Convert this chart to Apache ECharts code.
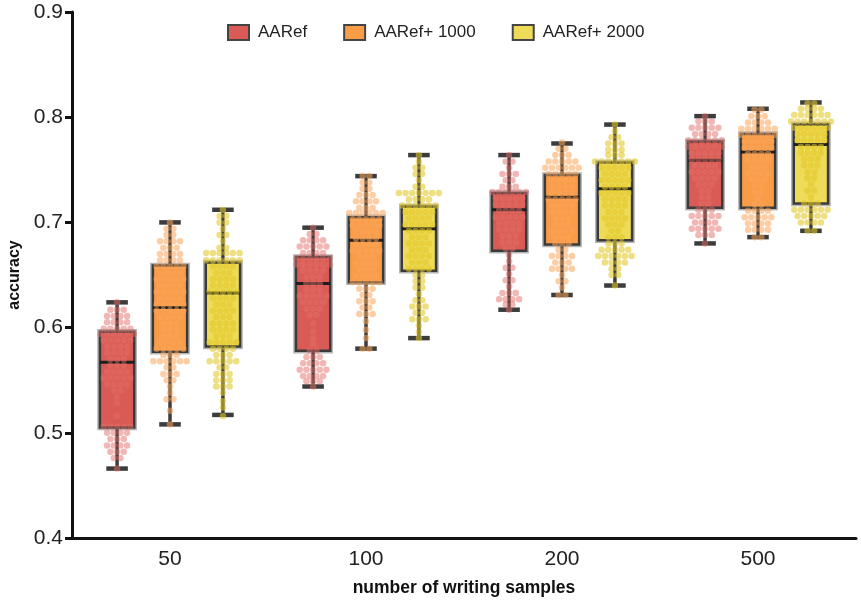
<!DOCTYPE html>
<html>
<head>
<meta charset="utf-8">
<script src="https://cdn.jsdelivr.net/npm/echarts@6/dist/echarts.min.js"></script>
<style>
  html, body { margin: 0; padding: 0; background: #fff; }
  #main { width: 861px; height: 601px; }
</style>
</head>
<body>
<div id="main"></div>
<script>
// categories and series
var categories = ['50', '100', '200', '500'];
var seriesNames = ['AARef', 'AARef+ 1000', 'AARef+ 2000'];
var boxColors = ['#da5b55', '#f99c47', '#eedc58'];
var dotColors = ['rgba(226,110,104,0.62)', 'rgba(250,165,90,0.68)', 'rgba(226,200,40,0.72)'];

// box stats per series, one row per category: [min, Q1, median, Q3, max]
var boxAARef = [
  [0.466, 0.505, 0.567, 0.596, 0.624],
  [0.544, 0.578, 0.642, 0.667, 0.695],
  [0.617, 0.673, 0.712, 0.728, 0.764],
  [0.680, 0.714, 0.759, 0.777, 0.801]
];
var boxAARef1000 = [
  [0.508, 0.577, 0.619, 0.659, 0.700],
  [0.580, 0.643, 0.683, 0.705, 0.744],
  [0.631, 0.679, 0.724, 0.745, 0.775],
  [0.686, 0.714, 0.767, 0.784, 0.808]
];
var boxAARef2000 = [
  [0.517, 0.582, 0.633, 0.662, 0.712],
  [0.590, 0.654, 0.694, 0.715, 0.764],
  [0.640, 0.683, 0.732, 0.757, 0.793],
  [0.692, 0.718, 0.774, 0.793, 0.814]
];

// individual samples read as rows: [accuracy, number of dots at that level]
var dotsAARef = [
  [[0.624,1],[0.617,3],[0.611,4],[0.605,4],[0.599,5],[0.594,6],[0.588,5],[0.582,4],[0.576,4],[0.570,3],[0.564,3],[0.558,4],[0.552,5],[0.546,4],[0.540,2],[0.534,1],[0.528,1],[0.516,1],[0.506,5],[0.500,4],[0.494,3],[0.488,4],[0.482,3],[0.476,2],[0.466,1]],
  [[0.695,1],[0.689,2],[0.683,4],[0.677,5],[0.671,4],[0.666,6],[0.660,6],[0.654,4],[0.648,3],[0.642,3],[0.636,3],[0.630,5],[0.624,4],[0.618,3],[0.612,2],[0.604,1],[0.596,1],[0.590,1],[0.584,1],[0.578,2],[0.572,3],[0.566,4],[0.560,5],[0.554,4],[0.549,3],[0.544,1]],
  [[0.764,1],[0.758,2],[0.752,1],[0.746,3],[0.740,2],[0.734,3],[0.729,6],[0.723,5],[0.717,5],[0.711,4],[0.705,5],[0.699,4],[0.693,4],[0.687,3],[0.681,3],[0.675,2],[0.669,1],[0.663,1],[0.657,2],[0.651,1],[0.645,2],[0.639,1],[0.633,3],[0.627,4],[0.622,2],[0.617,1]],
  [[0.801,1],[0.796,3],[0.790,5],[0.784,4],[0.778,6],[0.772,6],[0.766,5],[0.760,5],[0.754,4],[0.748,5],[0.742,4],[0.736,3],[0.730,2],[0.724,2],[0.718,2],[0.712,3],[0.706,5],[0.700,4],[0.694,5],[0.688,3],[0.680,1]]
];
var dotsAARef1000 = [
  [[0.700,1],[0.694,2],[0.688,2],[0.682,4],[0.676,3],[0.670,4],[0.664,4],[0.658,5],[0.652,4],[0.646,5],[0.640,4],[0.634,5],[0.628,4],[0.622,5],[0.616,5],[0.610,4],[0.604,3],[0.598,3],[0.592,3],[0.586,4],[0.580,5],[0.574,3],[0.568,6],[0.562,2],[0.556,3],[0.550,2],[0.544,1],[0.538,1],[0.532,2],[0.521,1],[0.508,1]],
  [[0.744,2],[0.738,2],[0.732,2],[0.726,3],[0.720,4],[0.714,3],[0.709,6],[0.703,5],[0.697,5],[0.691,4],[0.685,4],[0.679,4],[0.673,5],[0.667,3],[0.661,4],[0.655,3],[0.649,4],[0.643,5],[0.637,3],[0.631,2],[0.625,3],[0.619,2],[0.613,3],[0.606,1],[0.598,1],[0.590,1],[0.580,2]],
  [[0.776,1],[0.770,2],[0.764,3],[0.758,5],[0.752,6],[0.746,5],[0.740,4],[0.734,4],[0.728,4],[0.722,5],[0.716,4],[0.710,4],[0.704,3],[0.698,3],[0.692,4],[0.686,3],[0.680,3],[0.674,2],[0.668,4],[0.662,3],[0.656,4],[0.650,1],[0.644,2],[0.638,1],[0.631,2]],
  [[0.807,2],[0.801,3],[0.795,4],[0.789,6],[0.783,6],[0.777,5],[0.771,5],[0.765,4],[0.759,4],[0.753,3],[0.747,4],[0.741,3],[0.735,2],[0.729,2],[0.723,1],[0.717,2],[0.711,4],[0.705,5],[0.699,4],[0.693,4],[0.686,2]]
];
var dotsAARef2000 = [
  [[0.712,1],[0.706,2],[0.700,2],[0.694,1],[0.688,2],[0.682,1],[0.676,2],[0.671,6],[0.664,6],[0.658,4],[0.652,3],[0.646,4],[0.640,4],[0.634,5],[0.628,4],[0.622,3],[0.616,4],[0.610,3],[0.604,4],[0.598,4],[0.592,3],[0.586,5],[0.580,4],[0.574,3],[0.568,5],[0.562,2],[0.556,3],[0.550,3],[0.544,3],[0.538,1],[0.530,1],[0.524,1],[0.516,1]],
  [[0.764,1],[0.758,1],[0.752,2],[0.746,2],[0.740,1],[0.734,2],[0.728,7],[0.722,4],[0.716,6],[0.710,5],[0.704,4],[0.698,5],[0.692,4],[0.686,3],[0.680,4],[0.674,3],[0.668,4],[0.662,3],[0.656,4],[0.650,2],[0.644,2],[0.638,2],[0.632,1],[0.626,2],[0.620,3],[0.614,2],[0.608,3],[0.602,1],[0.596,1],[0.590,1]],
  [[0.793,1],[0.787,1],[0.781,2],[0.775,3],[0.769,3],[0.764,3],[0.758,7],[0.752,5],[0.746,4],[0.740,5],[0.734,4],[0.728,5],[0.722,4],[0.716,4],[0.710,3],[0.704,4],[0.698,3],[0.692,2],[0.686,3],[0.680,3],[0.674,5],[0.668,6],[0.662,4],[0.656,2],[0.650,2],[0.640,1]],
  [[0.813,2],[0.808,4],[0.802,6],[0.796,7],[0.790,6],[0.784,5],[0.778,5],[0.772,4],[0.766,4],[0.760,3],[0.754,3],[0.748,2],[0.742,2],[0.736,1],[0.730,2],[0.724,1],[0.718,3],[0.712,6],[0.706,5],[0.700,4],[0.692,2]]
];

var yTicks = [0.4, 0.5, 0.6, 0.7, 0.8, 0.9];

var boxStats = [boxAARef, boxAARef1000, boxAARef2000];
var dotRows = [dotsAARef, dotsAARef1000, dotsAARef2000];

// layout in category units (1 = one category band)
var groupOffset = 0.27;
var boxWidth = 0.175;
var capWidth = 0.11;
var dotStep = 0.034;

var chart = echarts.init(document.getElementById('main'));

function boxRenderer(color) {
  return function (params, api) {
    var x = api.value(0);
    var pMin = api.coord([x, api.value(1)]);
    var pQ1 = api.coord([x, api.value(2)]);
    var pMed = api.coord([x, api.value(3)]);
    var pQ3 = api.coord([x, api.value(4)]);
    var pMax = api.coord([x, api.value(5)]);
    var hw = api.size([boxWidth, 0])[0] / 2;
    var cw = api.size([capWidth, 0])[0] / 2;
    var cx = pMed[0];
    var line = { stroke: '#3c3c3c', lineWidth: 3.5 };
    return {
      type: 'group',
      children: [
        { type: 'line', shape: { x1: cx, y1: pMax[1], x2: cx, y2: pQ3[1] }, style: line },
        { type: 'line', shape: { x1: cx, y1: pQ1[1], x2: cx, y2: pMin[1] }, style: line },
        { type: 'line', shape: { x1: cx - cw, y1: pMax[1], x2: cx + cw, y2: pMax[1] }, style: { stroke: '#3c3c3c', lineWidth: 4.5 } },
        { type: 'line', shape: { x1: cx - cw, y1: pMin[1], x2: cx + cw, y2: pMin[1] }, style: { stroke: '#3c3c3c', lineWidth: 4.5 } },
        { type: 'rect', shape: { x: cx - hw, y: pQ3[1], width: hw * 2, height: pQ1[1] - pQ3[1] },
          style: { fill: 'none', stroke: 'rgba(90,90,90,0.45)', lineWidth: 5.5 } },
        { type: 'rect', shape: { x: cx - hw, y: pQ3[1], width: hw * 2, height: pQ1[1] - pQ3[1] },
          style: { fill: color, stroke: '#3a3a3a', lineWidth: 2.5 } },
        { type: 'line', shape: { x1: cx - hw, y1: pMed[1], x2: cx + hw, y2: pMed[1] }, style: { stroke: '#1e1e1e', lineWidth: 3 } }
      ]
    };
  };
}

var series = [];
seriesNames.forEach(function (name, s) {
  var offset = (s - 1) * groupOffset;
  var boxData = boxStats[s].map(function (b, i) {
    return [i + offset].concat(b);
  });
  series.push({
    name: name,
    type: 'custom',
    xAxisIndex: 1,
    itemStyle: { color: boxColors[s] },
    renderItem: boxRenderer(boxColors[s]),
    encode: { x: 0, y: [1, 2, 3, 4, 5] },
    data: boxData,
    z: 2
  });
});
seriesNames.forEach(function (name, s) {
  var offset = (s - 1) * groupOffset;
  var pts = [];
  dotRows[s].forEach(function (rows, i) {
    rows.forEach(function (r) {
      var n = r[1];
      for (var j = 0; j < n; j++) {
        pts.push([i + offset + (j - (n - 1) / 2) * dotStep, r[0]]);
      }
    });
  });
  series.push({
    name: name,
    type: 'scatter',
    xAxisIndex: 1,
    symbolSize: 6.5,
    itemStyle: { color: dotColors[s] },
    data: pts,
    silent: true,
    z: 3
  });
});

var option = {
  backgroundColor: '#fff',
  animation: false,
  textStyle: { fontFamily: 'Liberation Sans, Arial, sans-serif' },
  legend: {
    top: 19,
    left: 222,
    itemWidth: 21,
    itemHeight: 15,
    itemGap: 36,
    textStyle: { fontSize: 17, color: '#222', padding: [0, 0, 0, 4] },
    data: seriesNames.map(function (n, s) {
      return { name: n, icon: 'rect', itemStyle: { color: boxColors[s], borderColor: '#444', borderWidth: 2 } };
    })
  },
  grid: { left: 72, right: 5, top: 12, bottom: 63, containLabel: false, outerBoundsMode: 'none' },
  xAxis: [
    {
      type: 'category',
      data: categories,
      name: 'number of writing samples',
      nameLocation: 'middle',
      nameGap: 41,
      nameTextStyle: { fontSize: 17.5, fontWeight: 'bold', color: '#111' },
      axisLine: { lineStyle: { color: '#111', width: 3 } },
      axisTick: { alignWithLabel: true, length: 7, lineStyle: { width: 3, color: '#111' } },
      axisLabel: { fontSize: 21, color: '#222', margin: 11 },
      splitLine: { show: false }
    },
    { type: 'value', min: -0.5, max: 3.5, show: false }
  ],
  yAxis: {
    type: 'value',
    min: yTicks[0],
    max: yTicks[yTicks.length - 1],
    interval: 0.1,
    name: 'accuracy',
    nameLocation: 'middle',
    nameGap: 49,
    nameTextStyle: { fontSize: 16, fontWeight: 'bold', color: '#111' },
    axisLine: { show: true, onZero: false, lineStyle: { color: '#111', width: 3 } },
    axisTick: { show: true, length: 7, lineStyle: { width: 3, color: '#111' } },
    axisLabel: { fontSize: 21, color: '#222', margin: 9, formatter: function (v) { return v.toFixed(1); } },
    splitLine: { show: false }
  },
  series: series
};
chart.setOption(option);
</script>
</body>
</html>
